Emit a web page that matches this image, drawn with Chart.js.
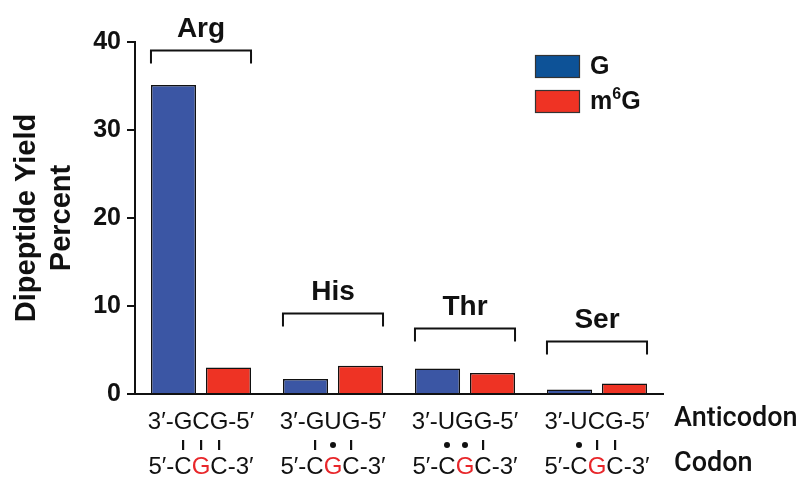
<!DOCTYPE html>
<html>
<head>
<meta charset="utf-8">
<script src="https://cdn.jsdelivr.net/npm/chart.js@4.4.0/dist/chart.umd.min.js"></script>
<style>
  html, body { margin: 0; padding: 0; background: #fff; }
  #wrap { width: 806px; height: 479px; }
</style>
</head>
<body>
<div id="wrap"><canvas id="yieldChart" width="806" height="479"></canvas></div>
<script>
const groups = ['Arg', 'His', 'Thr', 'Ser'];
const gValues = [35.1, 1.7, 2.9, 0.5];
const m6gValues = [3.0, 3.2, 2.4, 1.2];
const yTicks = [0, 10, 20, 30, 40];
const anticodons = ['3′-GCG-5′', '3′-GUG-5′', '3′-UGG-5′', '3′-UCG-5′'];
const codons = ['5′-CGC-3′', '5′-CGC-3′', '5′-CGC-3′', '5′-CGC-3′'];
const pairing = [['|', '|', '|'], ['|', '•', '|'], ['•', '•', '|'], ['•', '|', '|']];
const bracketLevels = [39.1, 9.2, 7.5, 6.0];

const FONT = '"Liberation Sans", Arial, sans-serif';

// brackets, amino acid names, codon rows and legend
const annotate = {
  id: 'annotate',
  afterDraw(chart) {
    const ctx = chart.ctx;
    const area = chart.chartArea;
    const y = chart.scales.y;
    const meta0 = chart.getDatasetMeta(0);
    const meta1 = chart.getDatasetMeta(1);
    ctx.save();
    ctx.fillStyle = '#111';
    ctx.strokeStyle = '#111';

    groups.forEach((name, i) => {
      const b0 = meta0.data[i], b1 = meta1.data[i];
      const left = b0.x - b0.width / 2;
      const right = b1.x + b1.width / 2;
      const cx = (left + right) / 2;
      const by = Math.round(y.getPixelForValue(bracketLevels[i])) + 0.5;

      ctx.lineWidth = 2;
      ctx.beginPath();
      ctx.moveTo(left, by + 13);
      ctx.lineTo(left, by);
      ctx.lineTo(right, by);
      ctx.lineTo(right, by + 13);
      ctx.stroke();

      ctx.font = 'bold 28px ' + FONT;
      ctx.textAlign = 'center';
      ctx.textBaseline = 'middle';
      ctx.fillText(name, cx, by - 21);

      // anticodon
      ctx.font = '24px ' + FONT;
      ctx.fillText(anticodons[i], cx, area.bottom + 28);

      // codon with red middle G
      const s = codons[i];
      const w = ctx.measureText(s).width;
      const x0 = cx - w / 2;
      ctx.textAlign = 'left';
      for (let k = 0; k < s.length; k++) {
        const pre = ctx.measureText(s.slice(0, k)).width;
        ctx.fillStyle = k === 4 ? '#e8262a' : '#111';
        ctx.fillText(s[k], x0 + pre, area.bottom + 73);
      }
      ctx.fillStyle = '#111';

      // pairing marks under codon letters 3..5
      pairing[i].forEach((m, j) => {
        const k = 3 + j;
        const lx = x0 + ctx.measureText(s.slice(0, k)).width + ctx.measureText(s[k]).width / 2;
        const my = area.bottom + 51;
        if (m === '•') {
          ctx.beginPath();
          ctx.arc(lx, my, 3, 0, Math.PI * 2);
          ctx.fill();
        } else {
          ctx.fillRect(lx - 1, my - 5, 2.2, 10);
        }
      });
    });

    ctx.font = '500 27px Roboto, ' + FONT;
    ctx.textAlign = 'left';
    ctx.textBaseline = 'middle';
    ctx.fillText('Anticodon', 674, area.bottom + 25);
    ctx.fillText('Codon', 674, area.bottom + 70);

    // legend, with the superscript drawn small and raised
    chart.data.datasets.forEach((ds, i) => {
      const top = 55 + i * 35;
      ctx.fillStyle = ds.legendColor;
      ctx.fillRect(535, top, 45, 23);
      ctx.lineWidth = 1.2;
      ctx.strokeStyle = '#333';
      ctx.strokeRect(535.5, top + 0.5, 44, 22);
      ctx.fillStyle = '#111';
      let x = 590;
      ds.label.split(/(⁶)/).forEach(part => {
        if (!part) return;
        if (part === '⁶') {
          ctx.font = 'bold 16px ' + FONT;
          ctx.fillText('6', x, top + 5);
        } else {
          ctx.font = 'bold 25px ' + FONT;
          ctx.fillText(part, x, top + 12);
        }
        x += ctx.measureText(part === '⁶' ? '6' : part).width;
      });
    });
    ctx.restore();
  }
};

new Chart(document.getElementById('yieldChart'), {
  type: 'bar',
  data: {
    labels: groups,
    datasets: [{
      label: 'G',
      data: gValues,
      backgroundColor: '#3b56a4',
      legendColor: '#0d5297',
      borderColor: '#111',
      borderWidth: 1.5
    }, {
      label: 'm⁶G',
      data: m6gValues,
      backgroundColor: '#ee3324',
      legendColor: '#ef3324',
      borderColor: '#111',
      borderWidth: 1.5
    }]
  },
  options: {
    responsive: false,
    animation: false,
    categoryPercentage: 0.833,
    barPercentage: 0.82,
    layout: { padding: { left: 10, right: 143, top: 42, bottom: 85 } },
    plugins: {
      legend: { display: false },
      tooltip: { enabled: false }
    },
    scales: {
      x: {
        ticks: { display: false },
        grid: { display: false },
        border: { display: true, color: '#111', width: 2 },
        afterFit(scale) { scale.height = 0; }
      },
      y: {
        min: 0,
        max: 40,
        afterBuildTicks(scale) { scale.ticks = yTicks.map(v => ({ value: v })); },
        ticks: {
          color: '#111',
          padding: 6,
          font: { family: FONT, size: 25, weight: 'bold' }
        },
        grid: {
          drawOnChartArea: false,
          drawTicks: true,
          tickLength: 8,
          color: '#111',
          lineWidth: 2
        },
        border: { display: true, color: '#111', width: 2 },
        title: {
          display: true,
          text: ['Dipeptide Yield', 'Percent'],
          color: '#111',
          font: { family: FONT, size: 29, weight: 'bold', lineHeight: 1.2 },
          padding: { top: 0, bottom: 10 }
        },
        afterFit(scale) { scale.width = 125; }
      }
    }
  },
  plugins: [annotate]
});
</script>
</body>
</html>
